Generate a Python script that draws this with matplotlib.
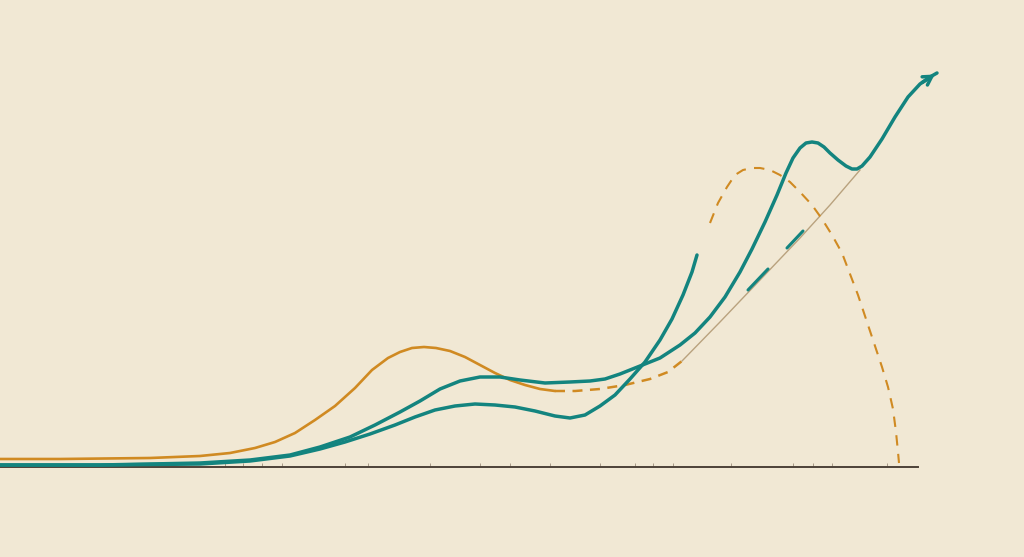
import matplotlib.pyplot as plt
import numpy as np

# colours
bg = '#f1e8d4'
teal = '#13847f'
orange = '#d08a22'
axis_col = '#4d4238'

# values (x in px, y = height above baseline in px)
orange_x = [0, 60, 150, 200, 230, 255, 275, 295, 315, 335, 355, 372, 388, 400, 412, 424, 436, 450, 465, 480, 495, 510, 525, 540, 555]
orange_y = [8, 8, 9, 11, 14, 19, 25, 34, 47, 61, 79, 97, 109, 115, 119, 120, 119, 116, 110, 102, 94, 87, 82, 78, 76]

odash_x = [555, 575, 600, 625, 650, 668, 682]
odash_y = [76, 76, 78, 82, 88, 95, 106]

arch_x = [710, 718, 727, 735, 743, 752, 760, 770, 780, 790, 800, 812, 822, 832, 842, 850, 858, 866, 874, 882, 888, 893, 896, 898, 899]
arch_y = [244, 264, 280, 292, 297, 299, 299, 297, 292, 285, 275, 262, 248, 232, 214, 193, 172, 148, 124, 100, 80, 58, 35, 15, 4]

thin_x = [682, 720, 760, 800, 830, 860]
thin_y = [106, 145, 187, 229, 262, 297]

# short teal strokes laid along the thin line
seg1_x = [748, 768]
seg1_y = [177, 198]
seg2_x = [787, 803]
seg2_y = [219, 236]

teal_a_x = [0, 100, 200, 250, 290, 320, 345, 370, 395, 415, 435, 455, 475, 495, 515, 535, 555, 570, 585, 600, 615, 630, 645, 660, 672, 683, 692, 697]
teal_a_y = [2, 2, 3, 6, 11, 18, 25, 33, 42, 50, 57, 61, 63, 62, 60, 56, 51, 49, 52, 61, 72, 88, 105, 127, 148, 172, 195, 212]

teal_b_x = [0, 100, 200, 250, 290, 320, 350, 375, 400, 420, 440, 460, 480, 500, 520, 545, 570, 590, 605, 620, 640, 660, 680, 695, 710, 725, 740, 752, 765, 777, 786, 793, 800, 806, 812, 818, 824, 830, 838, 846, 852, 857, 862, 870, 882, 895, 908, 920, 930, 937]
teal_b_y = [2, 2, 4, 7, 12, 20, 30, 42, 55, 66, 78, 86, 90, 90, 87, 84, 85, 86, 88, 93, 101, 109, 122, 134, 150, 170, 195, 218, 245, 272, 294, 309, 319, 324, 325, 324, 320, 314, 307, 301, 298, 298, 301, 310, 328, 350, 370, 383, 390, 394]

tick_x = [225, 243, 262, 282, 345, 368, 430, 480, 510, 550, 600, 635, 653, 673, 731, 793, 813, 832, 887]

fig = plt.figure(figsize=(10.24, 5.57), dpi=100)
fig.patch.set_facecolor(bg)
ax = fig.add_axes([0, 0, 1, 1])
ax.set_facecolor(bg)
ax.set_xlim(0, 1024)
ax.set_ylim(-90, 467)

# baseline as the bottom spine with small inward ticks
for s in ['top', 'right', 'left']:
    ax.spines[s].set_visible(False)
ax.spines['bottom'].set_position(('data', 0))
ax.spines['bottom'].set_bounds(0, 918)
ax.spines['bottom'].set_color(axis_col)
ax.spines['bottom'].set_linewidth(1.4)
ax.set_xticks(tick_x)
ax.set_xticklabels([])
ax.tick_params(axis='x', direction='in', length=3, width=0.7, colors='#a89a88')
ax.set_yticks([])

ax.plot(orange_x, orange_y, color=orange, lw=1.9, solid_capstyle='round', solid_joinstyle='round', zorder=3)
ax.plot(odash_x, odash_y, color=orange, lw=1.8, ls=(0, (4, 3)), zorder=3)
ax.plot(arch_x, arch_y, color=orange, lw=1.5, ls=(0, (5, 4)), zorder=3)
ax.plot(thin_x, thin_y, color='#b9a27e', lw=1.0, zorder=2)
ax.plot(seg1_x, seg1_y, color=teal, lw=2.2, solid_capstyle='round', zorder=2)
ax.plot(seg2_x, seg2_y, color=teal, lw=2.2, solid_capstyle='round', zorder=2)

ax.plot(teal_a_x, teal_a_y, color=teal, lw=2.5, solid_capstyle='round', solid_joinstyle='round', zorder=4)
ax.plot(teal_b_x, teal_b_y, color=teal, lw=2.5, solid_capstyle='round', solid_joinstyle='round', zorder=4)

# open arrowhead at the end of the rising line
ax.annotate('', xy=(teal_b_x[-1], teal_b_y[-1]), xytext=(teal_b_x[-3], teal_b_y[-3]),
            arrowprops=dict(arrowstyle='->, head_length=0.6, head_width=0.35', color=teal, lw=2.5))

fig.savefig('out.png', dpi=100, facecolor=bg)
